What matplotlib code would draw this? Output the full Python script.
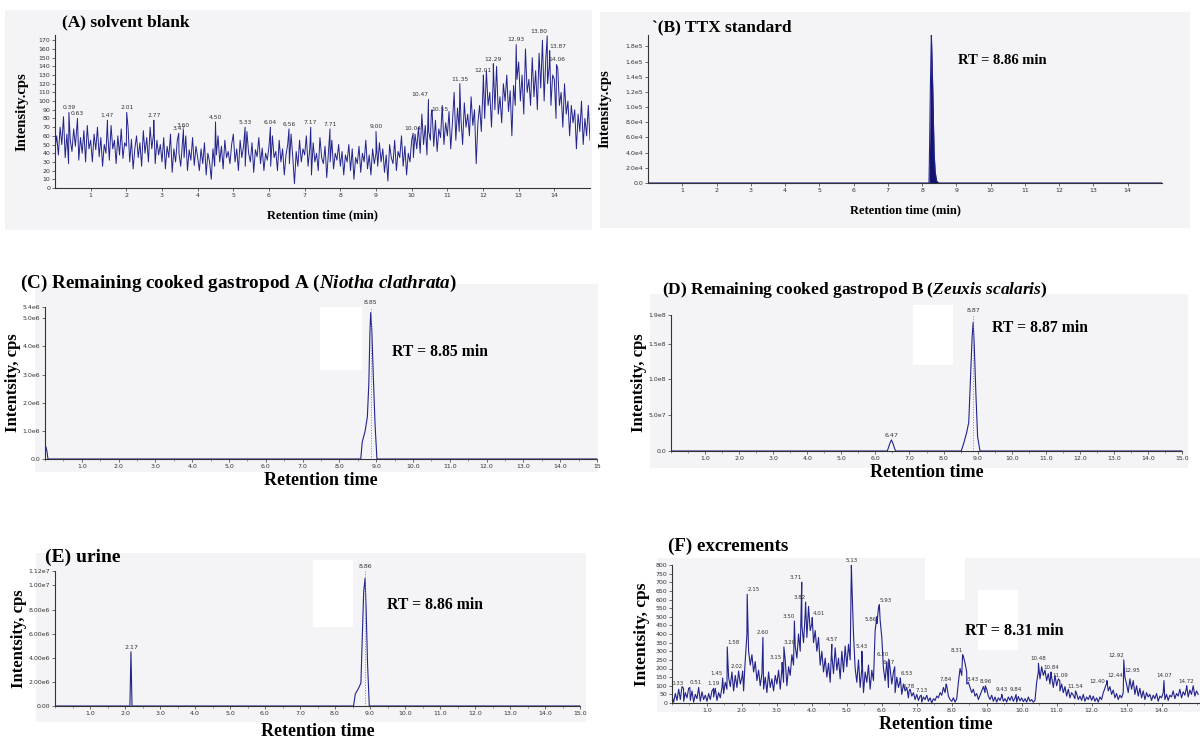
"""
Six LC-MS/MS chromatograms (TTX screening): blank, standard, samples.
"""

import numpy as np
import matplotlib
matplotlib.use("Agg")
import matplotlib.pyplot as plt
from matplotlib.patches import Rectangle
from matplotlib.ticker import MultipleLocator

plt.rcParams["mathtext.fontset"] = "custom"
plt.rcParams["mathtext.it"] = "Liberation Serif:italic:bold"
plt.rcParams["mathtext.rm"] = "Liberation Serif:bold"

DT = 1 / 21  # sampling step of the hand-read noisy traces (min)

# ── (A) solvent blank: trace read ~21 samples per minute ──
blank_cps = [
    45, 60, 38, 70, 50, 82, 35, 62, 28, 55, 42, 68, 48, 75, 32, 58, 40, 66, 30, 72, 45,
    55, 30, 62, 44, 70, 36, 58, 25, 50, 40, 65, 32, 72, 45, 55, 28, 60, 38, 68, 34, 52,
    48, 70, 30, 56, 22, 45, 60, 35, 52, 25, 66, 40, 58, 30, 70, 45, 62, 28, 55, 38, 50,
    30, 58, 22, 48, 35, 62, 18, 45, 30, 55, 40, 25, 52, 35, 60, 20, 44, 32, 58, 26, 48,
    35, 20, 45, 28, 52, 15, 40, 30, 10, 45, 25, 38, 60, 30, 48, 22, 55, 35, 42, 28, 50,
    62, 30, 45, 20, 55, 35, 48, 25, 65, 40, 30, 52, 18, 44, 36, 58, 28, 46, 20, 40, 32,
    48, 25, 60, 35, 42, 20, 55, 30, 45, 15, 38, 50, 28, 62, 35, 5, 42, 25, 55, 30, 45,
    38, 60, 25, 45, 15, 52, 30, 40, 20, 58, 35, 28, 48, 12, 42, 30, 55, 22, 40, 32, 50,
    25, 42, 15, 38, 30, 50, 20, 45, 10, 35, 28, 48, 18, 40, 30, 55, 22, 38, 15, 45, 28,
    40, 25, 52, 30, 45, 18, 38, 8, 50, 35, 28, 55, 20, 42, 35, 60, 25, 48, 15, 40, 30,
    55, 35, 62, 45, 70, 40, 85, 50, 72, 38, 65, 55, 90, 48, 78, 42, 68, 58, 95, 50, 75,
    60, 88, 45, 75, 110, 55, 92, 65, 80, 50, 98, 70, 85, 60, 105, 72, 90, 28, 75, 95, 65,
    115, 80, 135, 95, 110, 70, 125, 90, 140, 85, 105, 75, 120, 100, 130, 88, 112, 60, 118, 95, 125,
    145, 100, 130, 85, 160, 110, 125, 95, 150, 105, 135, 90, 155, 115, 170, 100, 150, 120, 140, 95, 130,
    125, 80, 138, 95, 110, 70, 120, 85, 100, 60, 95, 75, 90, 45, 85, 65, 100, 50, 80, 60, 95,
    55,
]
blank_peak_rt = [0.39, 0.63, 1.47, 2.01, 2.77, 3.47, 3.60, 4.50, 5.33, 6.04,
                 6.56, 7.17, 7.71, 9.00, 10.04, 10.47, 10.55, 11.35, 12.01,
                 12.29, 12.93, 13.80, 13.87, 14.06]
blank_peak_cps = [87, 80, 78, 87, 78, 63, 67, 76, 70, 70,
                  68, 70, 68, 65, 63, 102, 85, 120, 130,
                  143, 165, 175, 158, 142]

# ── (B) TTX standard ──
std_rt = [0, 8.20, 8.22, 8.24, 8.26, 8.27, 8.29, 8.31, 8.33, 8.35, 8.38, 8.42, 8.48, 15]
std_cps = [0, 0, 5.5e4, 1.25e5, 1.75e5, 1.95e5, 1.6e5, 1.25e5, 8e4, 4e4, 1.5e4, 3e3, 0, 0]

# ── (C) gastropod A ──
gasA_rt = [0, 0.02, 0.05, 0.08, 8.58, 8.62, 8.70, 8.76, 8.80, 8.83, 8.85, 8.88, 8.92, 8.97, 9.02, 15]
gasA_cps = [3e5, 4.5e5, 3e5, 0, 0, 6e5, 1.0e6, 1.5e6, 2.7e6, 4.5e6, 5.2e6, 4.6e6, 3.0e6, 1.2e6, 0, 0]

# ── (D) gastropod B ──
gasB_rt = [0, 6.35, 6.42, 6.47, 6.52, 6.59, 8.52, 8.60, 8.68, 8.74, 8.79, 8.84, 8.87,
           8.90, 8.95, 9.00, 9.07, 15]
gasB_cps = [0, 0, 1.0e7, 1.55e7, 1.0e7, 0, 0, 1.2e7, 2.6e7, 4.0e7, 1.0e8, 1.6e8, 1.8e8,
            1.5e8, 8.0e7, 2.0e7, 0, 0]

# ── (E) urine ──
urine_rt = [0, 2.14, 2.17, 2.20, 8.53, 8.58, 8.66, 8.74, 8.79, 8.82, 8.86, 8.89, 8.93, 8.98, 15]
urine_cps = [0, 0, 4.5e6, 0, 0, 1.0e6, 1.4e6, 1.9e6, 6.7e6, 9.5e6, 1.06e7, 8.0e6, 3.5e6, 0, 0]

# ── (F) excrements: trace read ~21 samples per minute ──
excr_cps = [
    40, 5, 55, 15, 80, 20, 95, 10, 60, 30, 85, 15, 70, 5, 50, 25, 90, 10, 65, 20, 45,
    10, 55, 20, 70, 35, 85, 15, 60, 30, 90, 55, 120, 80, 150, 95, 180, 70, 160, 90, 185, 110,
    150, 70, 250, 400, 300, 220, 280, 180, 240, 130, 190, 100, 170, 80, 150, 60, 180, 90, 140, 70, 160,
    110, 190, 80, 200, 120, 250, 100, 210, 160, 280, 220, 330, 260, 400, 300, 450, 350, 520, 380, 560, 420,
    460, 350, 420, 300, 380, 220, 300, 180, 260, 150, 230, 120, 280, 170, 320, 190, 260, 140, 300, 180, 330,
    210, 340, 250, 700, 400, 200, 120, 250, 90, 200, 60, 180, 120, 220, 80, 190, 130, 420, 500, 550, 480,
    380, 200, 130, 240, 90, 200, 110, 180, 60, 150, 90, 130, 50, 110, 70, 90, 30, 80, 40, 60, 20,
    50, 15, 40, 5, 35, 20, 45, 10, 30, 0, 25, 15, 40, 30, 60, 45, 90, 60, 100, 40, 20,
    10, 30, 5, 25, 120, 200, 160, 270, 230, 180, 120, 90, 60, 80, 40, 55, 20, 45, 70, 95, 60,
    80, 40, 20, 45, 10, 35, 5, 30, 15, 40, 10, 25, 5, 35, 15, 40, 10, 30, 5, 38, 12,
    30, 8, 25, 5, 35, 10, 20, 5, 15, 120, 180, 140, 210, 160, 190, 130, 170, 110, 150, 90, 160,
    100, 140, 70, 110, 60, 95, 40, 80, 30, 60, 45, 25, 55, 20, 40, 15, 50, 10, 35, 20, 45,
    15, 40, 10, 30, 5, 35, 20, 60, 85, 110, 70, 95, 50, 75, 30, 55, 20, 45, 30, 60, 150,
    110, 60, 140, 80, 130, 50, 100, 40, 85, 30, 70, 20, 60, 35, 50, 15, 45, 25, 55, 10, 40,
    30, 60, 20, 50, 15, 45, 35, 70, 25, 55, 40, 80, 30, 65, 45, 90, 35, 75, 50, 100, 40,
    70, 50,
]
excr_peak_rt = [0.33, 0.51, 1.19, 1.45, 1.58, 2.02, 2.15, 2.60, 3.15, 3.20,
                3.50, 3.71, 3.82, 4.01, 4.57, 5.13, 5.43, 5.86, 5.93, 6.20,
                6.37, 6.53, 6.78, 7.13, 7.84, 8.31, 8.43, 8.96, 9.43, 9.84,
                10.48, 10.84, 11.09, 11.54, 12.40, 12.44, 12.92, 12.95, 14.07, 14.72]
excr_peak_cps = [85, 90, 85, 145, 325, 185, 630, 380, 235, 325,
                 475, 700, 585, 495, 340, 800, 300, 460, 570, 255,
                 210, 145, 70, 45, 110, 280, 110, 100, 50, 50,
                 230, 180, 130, 70, 100, 130, 250, 160, 130, 100]

LINE = "#23238c"
BG = "#f4f4f6"
SERIF = "Liberation Serif"
W, H = 1200, 742


def fx(x):
    return x / W


def fy(y):
    return 1 - y / H


def add_axes(fig, left, top, right, bottom):
    ax = fig.add_axes([fx(left), fy(bottom), (right - left) / W, (bottom - top) / H])
    ax.set_facecolor("none")
    for s in ("top", "right"):
        ax.spines[s].set_visible(False)
    for s in ("left", "bottom"):
        ax.spines[s].set_color("#333333")
        ax.spines[s].set_linewidth(0.8)
    ax.tick_params(labelsize=4.5, length=2, width=0.5, pad=1.5, colors="#333333")
    ax.tick_params(which="minor", length=1.2, width=0.4, colors="#555555")
    return ax


def merge(trace, peak_rt, peak_val):
    t = np.concatenate([np.arange(len(trace)) * DT, peak_rt])
    v = np.concatenate([trace, peak_val])
    order = np.argsort(t, kind="stable")
    return t[order], v[order]


def peak_labels(ax, rts, vals, size=4.5, near=0.25):
    # close neighbours get pushed apart, like the instrument software does
    for i, (rt, v) in enumerate(zip(rts, vals)):
        ha = "center"
        if i + 1 < len(rts) and rts[i + 1] - rt < near:
            ha = "right"
        elif i > 0 and rt - rts[i - 1] < near:
            ha = "left"
        ax.annotate(f"{rt:.2f}", (rt, v), xytext=(0, 1.5), textcoords="offset points",
                    ha=ha, va="bottom", fontsize=size, color="#333333",
                    annotation_clip=False)


def bold_text(x, y, s, size):
    fig.text(fx(x), fy(y), s, family=SERIF, weight="bold", fontsize=size, va="center")


fig = plt.figure(figsize=(W / 100, H / 100), dpi=100, facecolor="white")

# panel backgrounds and the white patches sitting on them
for l, t, r, b in [(5, 10, 592, 230), (600, 12, 1190, 228), (35, 284, 598, 472),
                   (650, 294, 1188, 468), (36, 553, 586, 722), (657, 558, 1200, 712)]:
    fig.patches.append(Rectangle((fx(l), fy(b)), (r - l) / W, (b - t) / H,
                                 transform=fig.transFigure, facecolor=BG,
                                 edgecolor="none", zorder=-2))
for l, t, r, b in [(320, 307, 362, 370), (913, 305, 953, 365), (313, 560, 353, 627),
                   (925, 558, 965, 600), (978, 590, 1018, 650)]:
    fig.patches.append(Rectangle((fx(l), fy(b)), (r - l) / W, (b - t) / H,
                                 transform=fig.transFigure, facecolor="white",
                                 edgecolor="none", zorder=-1))

# ── Panel A: solvent blank ──
ax = add_axes(fig, 55, 35, 590, 188)
t, v = merge(blank_cps, blank_peak_rt, blank_peak_cps)
ax.plot(t, v, color=LINE, lw=0.7)
peak_labels(ax, blank_peak_rt, blank_peak_cps, size=4.3, near=0.1)
ax.set_xlim(0, 15)
ax.set_ylim(0, 176)
ax.set_xticks(range(1, 15))
ax.set_yticks(range(0, 171, 10))
ax.set_ylabel("Intensity.cps", family=SERIF, weight="bold", fontsize=10.5, labelpad=7)
ax.set_xlabel("Retention time (min)", family=SERIF, weight="bold", fontsize=9, labelpad=8)
bold_text(62, 22, "(A) solvent blank", 12.5)

# ── Panel B: TTX standard ──
ax = add_axes(fig, 648, 35, 1162, 183)
ax.fill_between(std_rt, std_cps, color="#141470", lw=0)
ax.plot(std_rt, std_cps, color=LINE, lw=0.8)
ax.set_xlim(0, 15)
ax.set_ylim(0, 1.95e5)
ax.set_xticks(range(1, 15))
b_ticks = np.arange(0, 1.81e5, 2e4)
ax.set_yticks(b_ticks)
ax.set_yticklabels(["0.0"] + [f"{x:.1e}".replace("e+0", "e") for x in b_ticks[1:]])
ax.set_ylabel("Intensity.cps", family=SERIF, weight="bold", fontsize=10.5, labelpad=10)
ax.set_xlabel("Retention time (min)", family=SERIF, weight="bold", fontsize=9, labelpad=8)
bold_text(652, 27, "`(B) TTX standard", 12.5)
bold_text(958, 60, "RT = 8.86 min", 10.5)

# ── Panel C: gastropod A ──
ax = add_axes(fig, 45, 307, 597, 459)
ax.plot(gasA_rt, gasA_cps, color=LINE, lw=0.8)
ax.vlines(8.85, 0, 5.4e6, color="#888888", lw=0.7, linestyles=":")
peak_labels(ax, [8.85], [5.4e6])
ax.set_xlim(0, 15)
ax.set_ylim(0, 5.4e6)
ax.set_xticks(range(1, 16))
ax.set_xticklabels([f"{x:.1f}" for x in range(1, 15)] + ["15"])
ax.xaxis.set_minor_locator(MultipleLocator(0.5))
ax.set_yticks([0, 1e6, 2e6, 3e6, 4e6, 5e6, 5.4e6])
ax.set_yticklabels(["0.0", "1.0e6", "2.0e6", "3.0e6", "4.0e6", "5.0e6", "5.4e6"])
ax.set_ylabel("Intentsity, cps", family=SERIF, weight="bold", fontsize=12, labelpad=1)
ax.set_xlabel("Retention time", family=SERIF, weight="bold", fontsize=13, labelpad=2)
bold_text(20, 283, "(C) Remaining cooked gastropod A ($\\it{Niotha\\ clathrata}$)", 13.8)
bold_text(392, 352, "RT = 8.85 min", 11.3)

# ── Panel D: gastropod B ──
ax = add_axes(fig, 671, 315, 1182, 451)
ax.plot(gasB_rt, gasB_cps, color=LINE, lw=0.8)
ax.vlines(8.87, 0, 1.9e8, color="#888888", lw=0.7, linestyles=":")
peak_labels(ax, [6.47, 8.87], [1.55e7, 1.9e8])
ax.set_xlim(0, 15)
ax.set_ylim(0, 1.9e8)
ax.set_xticks(range(1, 16))
ax.set_xticklabels([f"{x:.1f}" for x in range(1, 16)])
ax.xaxis.set_minor_locator(MultipleLocator(0.5))
ax.set_yticks([0, 5e7, 1e8, 1.5e8, 1.9e8])
ax.set_yticklabels(["0.0", "5.0e7", "1.0e8", "1.5e8", "1.9e8"])
ax.set_ylabel("Intentsity, cps", family=SERIF, weight="bold", fontsize=12, labelpad=1)
ax.set_xlabel("Retention time", family=SERIF, weight="bold", fontsize=13, labelpad=2)
bold_text(662, 290, "(D) Remaining cooked gastropod B ($\\it{Zeuxis\\ scalaris}$)", 12.5)
bold_text(992, 328, "RT = 8.87 min", 11.3)

# ── Panel E: urine ──
ax = add_axes(fig, 55, 571, 580, 706)
ax.plot(urine_rt, urine_cps, color=LINE, lw=0.8)
ax.vlines(8.86, 0, 1.12e7, color="#888888", lw=0.7, linestyles=":")
peak_labels(ax, [2.17, 8.86], [4.5e6, 1.12e7])
ax.set_xlim(0, 15)
ax.set_ylim(0, 1.12e7)
ax.set_xticks(range(1, 16))
ax.set_xticklabels([f"{x:.1f}" for x in range(1, 16)])
ax.xaxis.set_minor_locator(MultipleLocator(0.5))
ax.set_yticks([0, 2e6, 4e6, 6e6, 8e6, 1e7, 1.12e7])
ax.set_yticklabels(["0.00", "2.00e6", "4.00e6", "6.00e6", "8.00e6", "1.00e7", "1.12e7"])
ax.set_ylabel("Intentsity, cps", family=SERIF, weight="bold", fontsize=12, labelpad=1)
ax.set_xlabel("Retention time", family=SERIF, weight="bold", fontsize=13, labelpad=5)
bold_text(45, 557, "(E) urine", 14)
bold_text(387, 605, "RT = 8.86 min", 11.3)

# ── Panel F: excrements ──
ax = add_axes(fig, 672, 565, 1200, 703)
t, v = merge(excr_cps, excr_peak_rt, excr_peak_cps)
ax.plot(t, v, color=LINE, lw=0.8)
peak_labels(ax, excr_peak_rt, excr_peak_cps, size=4.0)
ax.set_xlim(0, 15.1)
ax.set_ylim(0, 800)
ax.set_xticks(range(1, 15))
ax.set_xticklabels([f"{x:.1f}" for x in range(1, 15)])
ax.xaxis.set_minor_locator(MultipleLocator(0.5))
ax.set_yticks(range(0, 801, 50))
ax.set_ylabel("Intentsity, cps", family=SERIF, weight="bold", fontsize=12.5, labelpad=4)
ax.set_xlabel("Retention time", family=SERIF, weight="bold", fontsize=13, labelpad=2)
bold_text(668, 546, "(F) excrements", 13.7)
bold_text(965, 631, "RT = 8.31 min", 11.7)

fig.savefig("out.png", dpi=100, facecolor="white")
plt.close(fig)
